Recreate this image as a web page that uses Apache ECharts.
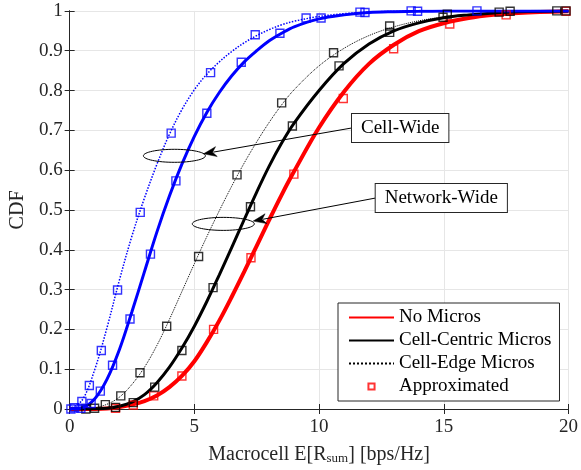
<!DOCTYPE html>
<html><head><meta charset="utf-8">
<script src="https://cdn.jsdelivr.net/npm/echarts@6/dist/echarts.min.js"></script>
<style>html,body{margin:0;padding:0;background:#fff}#c{width:581px;height:470px}</style>
</head><body><div id="c"></div>
<script>
// ---- data ----
const xGrid      = [0,0.5,1,1.5,2,2.5,3,3.5,4,4.5,5,5.5,6,6.5,7,7.5,8,8.5,9,10,11,12,13,14,15,16,17,18,20];
const noMicros   = [0,0,0,0.001,0.005,0.011,0.02,0.034,0.055,0.083,0.12,0.168,0.222,0.282,0.345,0.41,0.475,0.538,0.597,0.707,0.797,0.867,0.915,0.949,0.969,0.982,0.99,0.995,0.999];
const netCentric = [0,0,0.0005,0.002,0.007,0.017,0.036,0.066,0.105,0.153,0.208,0.27,0.337,0.406,0.476,0.545,0.61,0.668,0.718,0.8,0.868,0.917,0.95,0.97,0.983,0.99,0.995,0.998,1];
const netEdge    = [0,0,0.003,0.012,0.03,0.062,0.105,0.16,0.225,0.295,0.365,0.433,0.498,0.56,0.618,0.671,0.72,0.764,0.802,0.862,0.906,0.938,0.96,0.975,0.985,0.991,0.995,0.997,1];
const cellCentric= [0,0.003,0.025,0.075,0.15,0.245,0.345,0.445,0.535,0.615,0.685,0.745,0.795,0.837,0.872,0.9,0.925,0.944,0.96,0.98,0.99,0.996,0.998,0.999,1,1,1,1,1];
const cellEdge   = [0,0.022,0.098,0.205,0.325,0.435,0.53,0.615,0.69,0.752,0.802,0.841,0.872,0.898,0.92,0.938,0.953,0.965,0.974,0.986,0.993,0.997,0.999,1,1,1,1,1,1];

const redApxX  = [1.84,2.55,3.37,4.5,5.77,7.27,8.99,10.97,12.99,15.24,17.5,19.9];
const redApxY  = [0.002,0.01,0.033,0.083,0.2,0.38,0.59,0.78,0.905,0.967,0.99,0.999];
const netCenApxX = [0.65,1.84,2.55,3.41,4.5,5.75,7.25,8.93,10.8,12.83,14.97,17.66,19.9];
const netCenApxY = [0,0.004,0.016,0.055,0.147,0.305,0.508,0.711,0.862,0.946,0.984,0.999,1.0];
const netEdgApxX = [1.0,1.43,2.05,2.82,3.89,5.17,6.71,8.5,10.58,12.83,15.14,17.22,19.53];
const netEdgApxY = [0.002,0.011,0.033,0.091,0.208,0.383,0.588,0.769,0.895,0.962,0.992,0.997,1.0];
const cellCenApxX = [0.45,0.86,1.23,1.72,2.42,3.24,4.26,5.5,6.88,8.43,10.08,11.84,13.95,16.33];
const cellCenApxY = [0.002,0.014,0.045,0.11,0.226,0.389,0.573,0.743,0.871,0.944,0.982,0.996,0.999,1.0];
const cellEdgApxX = [0.05,0.2,0.49,0.79,1.27,1.92,2.83,4.07,5.65,7.44,9.48,11.64,13.69];
const cellEdgApxY = [0,0.003,0.019,0.059,0.147,0.299,0.494,0.693,0.845,0.94,0.982,0.997,1.0];

const legendNames = ['No Micros','Cell-Centric Micros','Cell-Edge Micros','Approximated'];

// annotations (data coordinates)
const annotations = [
  {label:'Cell-Wide', ell:[4.2,0.636], boxLeft:[11.32,0.706], tip:[5.37,0.641]},
  {label:'Network-Wide', ell:[6.16,0.465], boxLeft:[12.27,0.53], tip:[7.36,0.472]}
];

// ---- build ----
const FONT = 'Liberation Serif';
const FS = 19;
const pairs = (xs, ys) => xs.map((x,i)=>[x, ys[i]]);
function lineSeries(name, ys, color, width, type, z){
  return {name, type:'line', data:pairs(xGrid, ys), symbol:'none', smooth:0.35,
    lineStyle:{color, width, type}, itemStyle:{color}, z, animation:false};
}
function apxSeries(xs, ys, color){
  return {name:'Approximated', type:'scatter', data:pairs(xs, ys), symbol:'rect', symbolSize:8,
    itemStyle:{color:'rgba(0,0,0,0)', borderColor:color, borderWidth:1.4}, z:5, animation:false};
}

const chart = echarts.init(document.getElementById('c'));
const axisCommon = {min:0, axisLine:{show:true, lineStyle:{color:'#262626', width:1}},
  axisTick:{show:true, inside:true, length:5, lineStyle:{color:'#262626'}}};
chart.setOption({
  animation:false,
  backgroundColor:'#fff',
  grid:{left:66.7, right:10.3, top:10.9, bottom:61, containLabel:false},
  xAxis:[
    Object.assign({}, axisCommon, {type:'value', max:20, interval:5, position:'bottom',
      splitLine:{show:true, lineStyle:{color:'#e6e6e6'}},
      axisLabel:{fontFamily:FONT, fontSize:FS, color:'#262626', margin:9},
      name:'Macrocell E[R{sub|sum}] [bps/Hz]', nameLocation:'middle', nameGap:35,
      nameTextStyle:{fontFamily:FONT, fontSize:20, color:'#262626',
        rich:{sub:{fontFamily:FONT, fontSize:13, color:'#262626', verticalAlign:'bottom', padding:[8,0,0,0]}}}}),
    Object.assign({}, axisCommon, {type:'value', max:20, interval:5, position:'top',
      splitLine:{show:false}, axisLabel:{show:false}})
  ],
  yAxis:[
    Object.assign({}, axisCommon, {type:'value', max:1, interval:0.1, position:'left',
      splitLine:{show:true, lineStyle:{color:'#e6e6e6'}},
      axisLabel:{fontFamily:FONT, fontSize:FS, color:'#262626', margin:7},
      name:'CDF', nameLocation:'middle', nameGap:39,
      nameTextStyle:{fontFamily:FONT, fontSize:20, color:'#262626'}}),
    Object.assign({}, axisCommon, {type:'value', max:1, interval:0.1, position:'right',
      splitLine:{show:false}, axisLabel:{show:false}})
  ],
  legend:{
    data:[{name:legendNames[0], itemStyle:{opacity:0}},
      {name:legendNames[1], itemStyle:{opacity:0}},
      {name:legendNames[2], itemStyle:{opacity:0}},
      {name:legendNames[3], icon:'path://M0,0M16,16M4.5,4.5L11.5,4.5L11.5,11.5L4.5,11.5Z'}],
    orient:'vertical', left:338, top:303, itemWidth:45, itemHeight:14, itemGap:4,
    padding:[5,8,5,10], backgroundColor:'#fff', borderColor:'#262626', borderWidth:1,
    textStyle:{fontFamily:FONT, fontSize:FS, color:'#000'}, selectedMode:false
  },
  series:[
    lineSeries(legendNames[0], noMicros, '#ff0000', 4, 'solid', 3),
    lineSeries(legendNames[1], netCentric, '#000000', 3, 'solid', 3),
    lineSeries(legendNames[2], netEdge, '#000000', 1, 'dotted', 3),
    apxSeries(redApxX, redApxY, '#ff0000'),
    lineSeries(legendNames[1], cellCentric, '#0000ff', 3, 'solid', 3),
    lineSeries(legendNames[2], cellEdge, '#0000ff', 1.5, 'dotted', 3),
    apxSeries(netCenApxX, netCenApxY, '#000000'),
    apxSeries(netEdgApxX, netEdgApxY, '#000000'),
    apxSeries(cellCenApxX, cellCenApxY, '#0000ff'),
    apxSeries(cellEdgApxX, cellEdgApxY, '#0000ff')
  ]
});

// annotations as graphic elements placed via the axes
const g = [];
const px = p => chart.convertToPixel({xAxisIndex:0, yAxisIndex:0}, p);
annotations.forEach(a => {
  const c = px(a.ell), b = px(a.boxLeft), t = px(a.tip);
  g.push({type:'ellipse', shape:{cx:c[0], cy:c[1], rx:31, ry:6.5}, style:{fill:'none', stroke:'#000', lineWidth:1}, z:20});
  const dx = t[0]-b[0], dy = t[1]-b[1], L = Math.hypot(dx,dy), ux = dx/L, uy = dy/L;
  const hl = 13, hw = 5;
  const base = [t[0]-ux*hl, t[1]-uy*hl];
  g.push({type:'line', shape:{x1:b[0], y1:b[1], x2:base[0]+ux*3, y2:base[1]+uy*3}, style:{stroke:'#000', lineWidth:1}, z:20});
  g.push({type:'polygon', shape:{points:[t, [base[0]-uy*hw, base[1]+ux*hw], [t[0]-ux*hl*0.7, t[1]-uy*hl*0.7], [base[0]+uy*hw, base[1]-ux*hw]]},
    style:{fill:'#000', stroke:'#000', lineWidth:0.5}, z:21});
  g.push({type:'text', x:b[0], y:b[1], z:22, style:{text:a.label, fontFamily:FONT, fontSize:FS, fill:'#000',
    align:'left', verticalAlign:'middle', backgroundColor:'#fff', borderColor:'#262626', borderWidth:1, padding:[5,9,4,9]}});
});
chart.setOption({graphic:g});
</script></body></html>
